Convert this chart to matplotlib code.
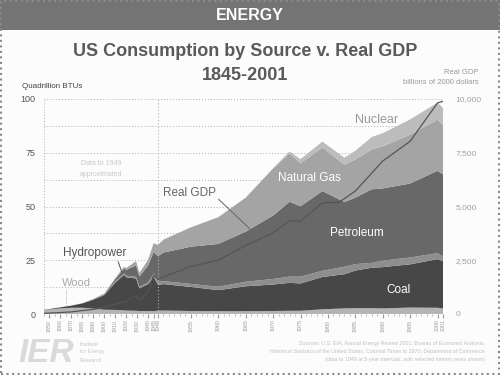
"""US energy consumption by source vs. real GDP, 1845-2001 (IER style)."""

import matplotlib
matplotlib.use("Agg")
import matplotlib.pyplot as plt
from matplotlib.patches import Rectangle
import numpy as np

plt.rcParams["font.family"] = ["Liberation Sans", "DejaVu Sans"]

YEARS = [1845, 1850, 1860, 1870, 1880, 1890, 1900, 1910, 1918, 1920, 1929, 1932,
         1940, 1945, 1949, 1950, 1955, 1960, 1965, 1970, 1973, 1975, 1979,
         1983, 1985, 1988, 1990, 1995, 2000, 2001]
WOOD = [1.9, 2.1, 2.6, 2.9, 2.9, 2.5, 2.0, 1.9, 1.7, 1.6, 1.5, 1.4,
        1.4, 1.3, 1.6, 1.6, 1.4, 1.3, 1.3, 1.4, 1.5, 1.5, 2.2,
        2.6, 2.7, 2.7, 2.6, 3.0, 2.9, 2.6]
COAL = [0.1, 0.2, 0.5, 1.0, 2.0, 4.1, 6.8, 12.7, 16.5, 15.5, 15.0, 10.5,
        12.5, 16.0, 12.0, 12.3, 11.2, 9.8, 11.6, 12.3, 13.0, 12.7, 15.0,
        15.9, 17.5, 18.8, 19.2, 20.1, 22.6, 22.0]
HYDRO = [0, 0, 0, 0, 0, 0.02, 0.25, 0.54, 0.7, 0.74, 0.8, 0.75,
         0.83, 1.5, 1.4, 1.4, 1.4, 1.6, 2.1, 2.6, 2.9, 3.2, 2.9,
         3.5, 3.0, 2.3, 3.0, 3.2, 2.8, 2.2]
PETROLEUM = [0, 0, 0, 0.01, 0.1, 0.16, 0.23, 1.0, 2.3, 2.7, 5.3, 4.8,
             7.8, 10.1, 11.9, 13.3, 17.3, 19.9, 23.3, 29.5, 34.8, 32.7, 37.1,
             30.1, 30.9, 34.2, 33.6, 34.4, 38.3, 38.2]
NATURAL_GAS = [0, 0, 0, 0, 0, 0.26, 0.25, 0.54, 0.8, 0.83, 2.0, 1.6,
               2.7, 4.0, 5.2, 6.0, 9.0, 12.4, 15.8, 21.8, 22.5, 20.0, 20.2,
               17.4, 17.7, 18.6, 19.6, 22.7, 23.8, 22.9]
NUCLEAR = [0, 0, 0, 0, 0, 0, 0, 0, 0, 0, 0, 0,
           0, 0, 0, 0, 0, 0.01, 0.04, 0.24, 0.9, 1.9, 2.8,
           3.2, 4.1, 5.7, 6.1, 7.1, 7.9, 8.0]

# real GDP, billions of 2000 dollars
GDP_YEARS = [1845, 1850, 1860, 1870, 1880, 1890, 1900, 1910, 1920, 1929, 1933,
             1940, 1945, 1949, 1955, 1960, 1965, 1970, 1973, 1975, 1979,
             1982, 1985, 1990, 1995, 2000, 2001]
GDP = [35, 42, 69, 98, 160, 215, 310, 460, 590, 865, 635,
       1034, 1787, 1634, 2213, 2502, 3191, 3771, 4341, 4311, 5173,
       5189, 5717, 7113, 8032, 9817, 9891]

XTICKS = [1850, 1860, 1870, 1880, 1890, 1900, 1910, 1920, 1930, 1940, 1945, 1949,
          1955, 1960, 1965, 1970, 1975, 1980, 1985, 1990, 1995, 2000, 2001]

COLORS = ["#b4b4b4", "#474747", "#8e8e8e", "#686868", "#a4a4a4", "#bcbcbc"]

# chart is drawn on a broken time axis: 1845-1949 compressed, 1949-2001 stretched
K1, K2 = 1.096, 5.48


def fwd(y):
    y = np.asarray(y, dtype=float)
    return np.where(y <= 1949, (y - 1845) * K1, 104 * K1 + (y - 1949) * K2)


def inv(p):
    p = np.asarray(p, dtype=float)
    return np.where(p <= 104 * K1, 1845 + p / K1, 1949 + (p - 104 * K1) / K2)


W, H = 500, 375
fig = plt.figure(figsize=(5, 3.75), dpi=100)
fig.patch.set_facecolor("#fcfcfc")

# banner and frame
fig.patches.append(Rectangle((0, 1 - 30 / H), 1, 30 / H, transform=fig.transFigure,
                             facecolor="#747474", edgecolor="none", zorder=0))
fig.patches.append(Rectangle((0.002, 0.003), 0.996, 0.994, transform=fig.transFigure,
                             facecolor="none", edgecolor="#8a8a8a", lw=1.5, ls=":",
                             zorder=5))
fig.text(0.5, 1 - 15 / H, "ENERGY", color="white", fontsize=11.5,
         fontweight="bold", ha="center", va="center")
fig.text(0.49, 1 - 52 / H, "US Consumption by Source v. Real GDP", color="#5a5a5a",
         fontsize=13, fontweight="bold", ha="center", va="center")
fig.text(0.49, 1 - 75 / H, "1845-2001", color="#5a5a5a", fontsize=13,
         fontweight="bold", ha="center", va="center")
fig.text(22 / W, 1 - 86 / H, "Quadrillion BTUs", color="#444", fontsize=5.8,
         va="center")
fig.text(479 / W, 1 - 73 / H, "Real GDP", color="#999", fontsize=5.5,
         ha="right", va="center")
fig.text(479 / W, 1 - 83 / H, "billions of 2000 dollars", color="#999",
         fontsize=5.5, ha="right", va="center")

ax = fig.add_axes([44 / W, 1 - 314 / H, 399 / W, 215 / H])
ax.set_facecolor("none")
ax.set_xscale("function", functions=(fwd, inv))
ax.stackplot(YEARS, WOOD, COAL, HYDRO, PETROLEUM, NATURAL_GAS, NUCLEAR,
             colors=COLORS, lw=0, zorder=2)
ax.set_xlim(1845, 2001)
ax.set_ylim(0, 100)
for s in ax.spines.values():
    s.set_visible(False)

for v in np.arange(12.5, 100.1, 12.5):
    ax.axhline(v, color="#b0b0b0", lw=0.7, ls=(0, (1, 2)), zorder=1)
ax.axvline(1845, color="#b0b0b0", lw=0.7, ls=(0, (1, 2)), zorder=1)
ax.axvline(1949, color="#b0b0b0", lw=0.8, ls=(0, (1, 2)), zorder=3)

ax.set_yticks([0, 25, 50, 75, 100])
ax.tick_params(axis="y", length=0, labelsize=6.5, labelcolor="#555", pad=6)
ax.set_xticks(XTICKS)
ax.set_xticklabels([str(t) for t in XTICKS], rotation=90, fontsize=3.8,
                   color="#999")
ax.set_xticks(list(range(1845, 1949, 5)) + list(range(1949, 2002)), minor=True)
ax.tick_params(axis="x", which="major", length=3, color="#999", pad=1)
ax.tick_params(axis="x", which="minor", length=1.5, color="#aaa")

ax2 = ax.twinx()
ax2.plot(GDP_YEARS, GDP, color="#555", lw=0.9, zorder=4)
ax2.set_ylim(0, 10000)
ax2.set_yticks([0, 2500, 5000, 7500, 10000])
ax2.set_yticklabels(["0", "2,500", "5,000", "7,500", "10,000"])
ax2.tick_params(axis="y", length=0, labelsize=6, labelcolor="#a0a0a0", pad=9)
for s in ax2.spines.values():
    s.set_visible(False)

# series labels
ax.annotate("Hydropower", xy=(1916, 19.5), xytext=(1891.5, 28.4), fontsize=8.5,
            color="#555", ha="center", va="center",
            arrowprops=dict(arrowstyle="-", color="#555", lw=0.7,
                            shrinkA=0, shrinkB=0, relpos=(0.85, 0)))
ax.text(1861.4, 14.4, "Wood", fontsize=8, color="#aaa", ha="left", va="center")
ax.vlines(1865, 0.5, 11.8, color="#aaa", lw=0.7, ls=(0, (1, 1.5)), zorder=3)
ax.annotate("Real GDP", xy=(1965.8, 39.5), xytext=(1954.7, 56.3), fontsize=8.5,
            color="#666", ha="center", va="center",
            arrowprops=dict(arrowstyle="-", color="#666", lw=0.7,
                            shrinkA=0, shrinkB=0, relpos=(1, 0.2)))
ax.text(1976.7, 63.3, "Natural Gas", fontsize=8.5, color="white",
        ha="center", va="center", zorder=5)
ax.text(1985.3, 37.7, "Petroleum", fontsize=8.5, color="white",
        ha="center", va="center", zorder=5)
ax.text(1992.8, 11.2, "Coal", fontsize=8.5, color="white",
        ha="center", va="center", zorder=5)
ax.text(1988.8, 90.2, "Nuclear", fontsize=9, color="#999",
        ha="center", va="center", zorder=5)
ax.text(1897, 70.2, "Data to 1949", fontsize=5, color="#c8c8c8",
        ha="center", va="center")
ax.text(1897, 64.7, "approximated", fontsize=5, color="#c8c8c8",
        ha="center", va="center")

# footer
fig.text(18 / W, 1 - 353 / H, "IER", fontsize=24, fontweight="bold",
         fontstyle="italic", color="#dadada", va="center")
for i, line in enumerate(["Institute", "for Energy", "Research"]):
    fig.text(80 / W, 1 - (344 + 8 * i) / H, line, fontsize=3.8, color="#c8c8c8",
             va="center")
src = ["Sources: U.S. EIA, Annual Energy Review 2001; Bureau of Economic Analysis,",
       "Historical Statistics of the United States, Colonial Times to 1970; Department of Commerce",
       "(data to 1949 at 5-year intervals, with selected interim years shown)"]
for i, line in enumerate(src):
    fig.text(485 / W, 1 - (344 + 8 * i) / H, line, fontsize=3.8, color="#c0c0c0",
             ha="right", va="center")

fig.savefig("out.png", dpi=100, facecolor=fig.get_facecolor())
